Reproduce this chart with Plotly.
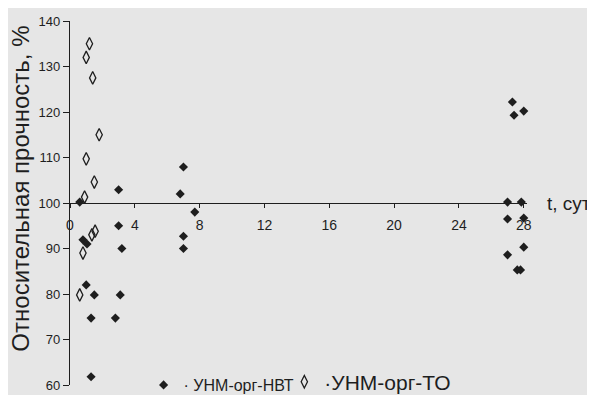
import plotly.graph_objects as go

# Data
nvt_days = [0.6, 0.8, 1.05, 1.0, 1.5, 1.3, 1.3, 2.8, 3.0, 3.0, 3.2, 3.1,
            6.8, 7.0, 7.7, 7.0, 7.0,
            27.0, 27.85, 27.0, 28.0, 28.0, 27.0, 27.6, 27.8, 27.3, 27.4, 28.0]
nvt_strength = [100.2, 91.9, 91.0, 82.0, 79.8, 74.7, 61.8, 74.7, 102.9, 95.0, 90.0, 79.8,
                102.0, 107.9, 98.0, 92.7, 90.0,
                100.2, 100.2, 96.5, 96.7, 90.3, 88.6, 85.3, 85.3, 122.2, 119.3, 120.2]

to_days = [1.2, 1.0, 1.4, 1.8, 1.0, 1.5, 0.9, 1.35, 1.55, 0.8, 0.6]
to_strength = [135.0, 132.0, 127.5, 115.0, 109.7, 104.6, 101.3, 93.0, 93.8, 89.0, 79.8]

x_ticks = [0, 4, 8, 12, 16, 20, 24, 28]
y_ticks = [60, 70, 80, 90, 100, 110, 120, 130, 140]

series_names = ["· УНМ-орг-НВТ", "·УНМ-орг-ТО"]
y_title = "Относительная прочность, %"
x_title = "t, сут"

ink = "#1e1e1e"
font_family = "Arial, Liberation Sans, sans-serif"

fig = go.Figure()
fig.add_trace(go.Scatter(
    x=nvt_days, y=nvt_strength, mode="markers", name=series_names[0],
    marker=dict(symbol="diamond", size=7, color=ink),
    cliponaxis=False, legend="legend",
))
fig.add_trace(go.Scatter(
    x=to_days, y=to_strength, mode="markers", name=series_names[1],
    marker=dict(symbol="diamond-tall-open", size=9, color=ink, line=dict(width=1.3, color=ink)),
    cliponaxis=False, legend="legend2",
))

fig.update_layout(
    width=595, height=395,
    margin=dict(l=62, r=76, t=13, b=18, autoexpand=False),
    paper_bgcolor="#e6e6e6", plot_bgcolor="#e6e6e6",
    font=dict(family=font_family, color=ink, size=14),
    showlegend=True,
    legend=dict(orientation="h", x=0.161, y=0.0, xanchor="left", yanchor="middle",
                font=dict(size=16, color=ink), bgcolor="rgba(0,0,0,0)",
                itemwidth=30, tracegroupgap=0),
    legend2=dict(orientation="h", x=0.469, y=0.008, xanchor="left", yanchor="middle",
                 font=dict(size=21, color=ink), bgcolor="rgba(0,0,0,0)",
                 itemwidth=30, tracegroupgap=0),
    xaxis=dict(range=[0, 28.2], tickvals=x_ticks, ticktext=[str(v) for v in x_ticks],
               anchor="free", position=0.5, showline=True, linecolor=ink, linewidth=1.2,
               ticks="outside", ticklen=4, tickcolor=ink, showgrid=False, zeroline=False,
               tickfont=dict(size=14), ticklabelstandoff=5),
    yaxis=dict(range=[60, 140], tickvals=y_ticks, showline=True, linecolor=ink, linewidth=1.2,
               ticks="outside", ticklen=6, tickcolor=ink, showgrid=False, zeroline=False,
               tickfont=dict(size=13)),
    annotations=[
        dict(text=y_title, textangle=-90, xref="paper", yref="paper", x=-0.109, y=0.54,
             xanchor="center", yanchor="middle", showarrow=False, font=dict(size=24, color=ink)),
        dict(text=x_title, xref="paper", yref="paper", x=1.04, y=0.5,
             xanchor="left", yanchor="middle", showarrow=False, font=dict(size=19, color=ink)),
    ],
)

fig.write_html("out.html")
